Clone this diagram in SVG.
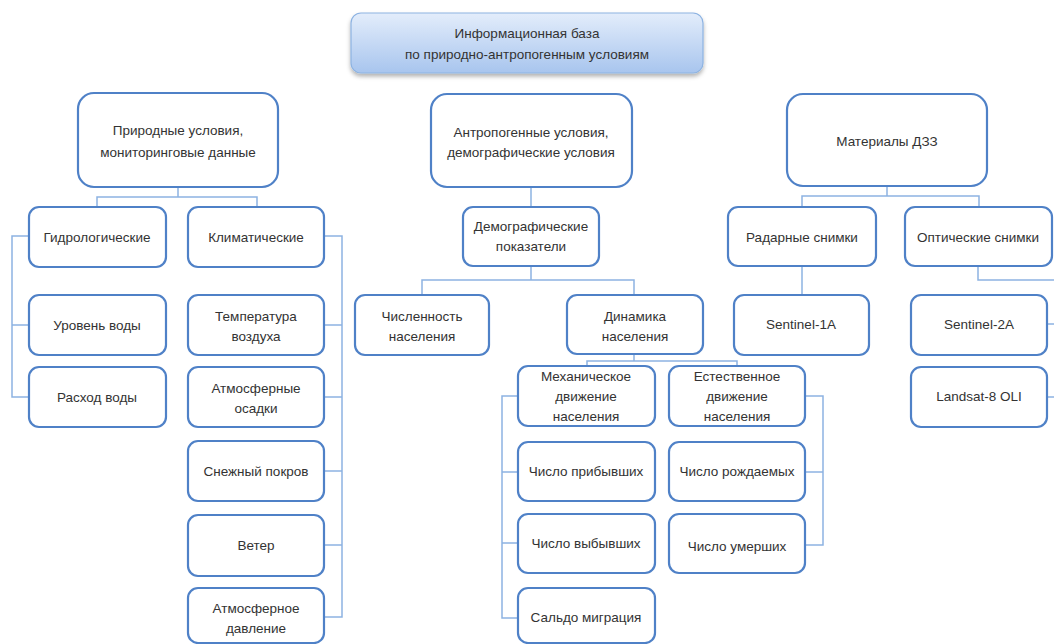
<svg xmlns="http://www.w3.org/2000/svg" width="1054" height="644" viewBox="0 0 1054 644">
<defs>
<linearGradient id="g" x1="0" y1="0" x2="0" y2="1">
<stop offset="0" stop-color="#e3edfb"/>
<stop offset="1" stop-color="#a8c5ee"/>
</linearGradient>
<filter id="sh" x="-10%" y="-20%" width="120%" height="150%">
<feDropShadow dx="0" dy="3" stdDeviation="2" flood-color="#000" flood-opacity="0.3"/>
</filter>
</defs>
<style>
.b{fill:#fff;stroke:#4f81c7;stroke-width:2.2}
.t{font-family:"Liberation Sans",Arial,sans-serif;font-size:13.5px;fill:#333;text-anchor:middle}
.c{fill:none;stroke:#8db3e2;stroke-width:1.5}
</style>
<rect width="1054" height="644" fill="#fff"/>
<g id="connectors">
<path class="c" d="M178,187V197M97,207V197H257V207"/>
<path class="c" d="M29,236H12V397H29M12,325H29"/>
<path class="c" d="M324,236H342V617H324M342,325H324M342,397H324M342,471H324M342,545H324"/>
<path class="c" d="M531,187V207"/>
<path class="c" d="M531,266V280M422,295V280H634V295"/>
<path class="c" d="M634,355V361M587,366V361H737V366"/>
<path class="c" d="M518,396H502V618H518M502,472H518M502,543H518"/>
<path class="c" d="M805,396H823V545H805M823,472H805"/>
<path class="c" d="M887,186V196M802,207V196H979V207"/>
<path class="c" d="M802,266V295"/>
<path class="c" d="M978,266V280H1056V397H1047M1056,324H1047"/>
</g>
<g id="root">
<rect x="351" y="13" width="352" height="60" rx="10" fill="url(#g)" stroke="#8db3e2" stroke-width="1.2" filter="url(#sh)"/>
<text class="t" x="527" y="38">Информационная база</text>
<text class="t" x="527" y="59">по природно-антропогенным условиям</text>
</g>
<g id="n-prirod">
<rect class="b" x="78" y="93" width="200" height="94" rx="16"/>
<text class="t" x="178" y="135">Природные условия,</text>
<text class="t" x="178" y="157">мониторинговые данные</text>
</g>
<g id="n-gidro">
<rect class="b" x="29" y="207" width="137" height="60" rx="10"/>
<text class="t" x="97" y="242">Гидрологические</text>
</g>
<g id="n-klim">
<rect class="b" x="188" y="207" width="136" height="60" rx="10"/>
<text class="t" x="256" y="242">Климатические</text>
</g>
<g id="n-uroven">
<rect class="b" x="29" y="295" width="137" height="60" rx="10"/>
<text class="t" x="97" y="330">Уровень воды</text>
</g>
<g id="n-rashod">
<rect class="b" x="29" y="367" width="137" height="60" rx="10"/>
<text class="t" x="97" y="402">Расход воды</text>
</g>
<g id="n-temp">
<rect class="b" x="188" y="295" width="136" height="60" rx="10"/>
<text class="t" x="256" y="321">Температура</text>
<text class="t" x="256" y="341">воздуха</text>
</g>
<g id="n-osadki">
<rect class="b" x="188" y="367" width="136" height="60" rx="10"/>
<text class="t" x="256" y="393">Атмосферные</text>
<text class="t" x="256" y="413">осадки</text>
</g>
<g id="n-sneg">
<rect class="b" x="188" y="441" width="136" height="60" rx="10"/>
<text class="t" x="256" y="476">Снежный покров</text>
</g>
<g id="n-veter">
<rect class="b" x="188" y="515" width="136" height="61" rx="10"/>
<text class="t" x="256" y="550">Ветер</text>
</g>
<g id="n-davl">
<rect class="b" x="188" y="588" width="136" height="55" rx="10"/>
<text class="t" x="256" y="613">Атмосферное</text>
<text class="t" x="256" y="633">давление</text>
</g>
<g id="n-antrop">
<rect class="b" x="431" y="94" width="201" height="93" rx="16"/>
<text class="t" x="531" y="137">Антропогенные условия,</text>
<text class="t" x="531" y="157">демографические условия</text>
</g>
<g id="n-demo">
<rect class="b" x="463" y="207" width="136" height="59" rx="10"/>
<text class="t" x="531" y="231">Демографические</text>
<text class="t" x="531" y="251">показатели</text>
</g>
<g id="n-chisl">
<rect class="b" x="355" y="295" width="134" height="60" rx="10"/>
<text class="t" x="422" y="321">Численность</text>
<text class="t" x="422" y="341">населения</text>
</g>
<g id="n-dinam">
<rect class="b" x="567" y="295" width="136" height="59" rx="10"/>
<text class="t" x="635" y="321">Динамика</text>
<text class="t" x="635" y="341">населения</text>
</g>
<g id="n-meh">
<rect class="b" x="518" y="366" width="137" height="60" rx="10"/>
<text class="t" x="586" y="381">Механическое</text>
<text class="t" x="586" y="401">движение</text>
<text class="t" x="586" y="421">населения</text>
</g>
<g id="n-est">
<rect class="b" x="669" y="366" width="136" height="60" rx="10"/>
<text class="t" x="737" y="381">Естественное</text>
<text class="t" x="737" y="401">движение</text>
<text class="t" x="737" y="421">населения</text>
</g>
<g id="n-prib">
<rect class="b" x="518" y="442" width="137" height="59" rx="10"/>
<text class="t" x="586" y="476">Число прибывших</text>
</g>
<g id="n-vyb">
<rect class="b" x="518" y="514" width="137" height="59" rx="10"/>
<text class="t" x="586" y="548">Число выбывших</text>
</g>
<g id="n-saldo">
<rect class="b" x="518" y="588" width="137" height="55" rx="10"/>
<text class="t" x="586" y="622">Сальдо миграция</text>
</g>
<g id="n-rozhd">
<rect class="b" x="669" y="442" width="136" height="59" rx="10"/>
<text class="t" x="737" y="476">Число рождаемых</text>
</g>
<g id="n-umer">
<rect class="b" x="669" y="514" width="136" height="59" rx="10"/>
<text class="t" x="737" y="551">Число умерших</text>
</g>
<g id="n-dzz">
<rect class="b" x="787" y="94" width="200" height="92" rx="16"/>
<text class="t" x="887" y="146">Материалы ДЗЗ</text>
</g>
<g id="n-radar">
<rect class="b" x="728" y="207" width="148" height="59" rx="10"/>
<text class="t" x="802" y="242">Радарные снимки</text>
</g>
<g id="n-opt">
<rect class="b" x="905" y="207" width="147" height="59" rx="10"/>
<text class="t" x="978" y="242">Оптические снимки</text>
</g>
<g id="n-s1a">
<rect class="b" x="734" y="295" width="135" height="60" rx="10"/>
<text class="t" x="801" y="329">Sentinel-1A</text>
</g>
<g id="n-s2a">
<rect class="b" x="911" y="295" width="136" height="60" rx="10"/>
<text class="t" x="979" y="329">Sentinel-2A</text>
</g>
<g id="n-landsat">
<rect class="b" x="911" y="367" width="136" height="60" rx="10"/>
<text class="t" x="979" y="401">Landsat-8 OLI</text>
</g>
</svg>
